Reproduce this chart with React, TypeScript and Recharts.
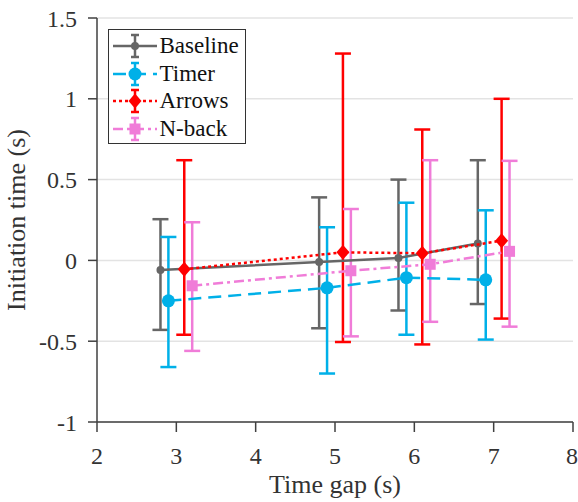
import React from 'react';
import { ComposedChart, Scatter, ErrorBar, XAxis, YAxis, CartesianGrid } from 'recharts';

// time gaps (s) and per-condition horizontal offsets
const timeGaps = [3, 5, 6, 7];
const xTicks = [2, 3, 4, 5, 6, 7, 8];
const yTicks = [-1, -0.5, 0, 0.5, 1, 1.5];

// means and error bar ends (s)
const baselineMean = [-0.06, -0.01, 0.015, 0.105];
const baselineLow = [-0.43, -0.42, -0.31, -0.27];
const baselineHigh = [0.255, 0.39, 0.5, 0.62];

const timerMean = [-0.25, -0.17, -0.107, -0.12];
const timerLow = [-0.66, -0.7, -0.46, -0.49];
const timerHigh = [0.145, 0.205, 0.357, 0.31];

const arrowsMean = [-0.055, 0.05, 0.044, 0.122];
const arrowsLow = [-0.46, -0.505, -0.52, -0.36];
const arrowsHigh = [0.62, 1.28, 0.81, 1.0];

const nbackMean = [-0.157, -0.064, -0.024, 0.056];
const nbackLow = [-0.56, -0.47, -0.38, -0.41];
const nbackHigh = [0.236, 0.318, 0.62, 0.616];

const build = (offset: number, mean: number[], low: number[], high: number[]) =>
  timeGaps.map((g, i) => ({
    x: g + offset,
    y: mean[i],
    err: [mean[i] - low[i], high[i] - mean[i]],
  }));

const FONT = '"Liberation Serif", "Times New Roman", Times, serif';
const AXIS = '#404040';
const TEXT = '#333333';

type MarkerKind = 'dot' | 'circle' | 'diamond' | 'square';

const series = [
  { name: 'Baseline', color: '#666666', dash: undefined, marker: 'dot' as MarkerKind, data: build(-0.2, baselineMean, baselineLow, baselineHigh) },
  { name: 'Timer', color: '#00b0e8', dash: '13 7', marker: 'circle' as MarkerKind, data: build(-0.1, timerMean, timerLow, timerHigh) },
  { name: 'Arrows', color: '#ff0000', dash: '3 3', marker: 'diamond' as MarkerKind, data: build(0.1, arrowsMean, arrowsLow, arrowsHigh) },
  { name: 'N-back', color: '#f07cd8', dash: '10 4 3 4', marker: 'square' as MarkerKind, data: build(0.2, nbackMean, nbackLow, nbackHigh) },
];

function Marker({ kind, cx, cy, color }: { kind: MarkerKind; cx: number; cy: number; color: string }) {
  if (kind === 'dot') return <circle cx={cx} cy={cy} r={4} fill={color} />;
  if (kind === 'circle') return <circle cx={cx} cy={cy} r={6.5} fill={color} />;
  if (kind === 'diamond')
    return <polygon points={`${cx},${cy - 7.5} ${cx + 6.5},${cy} ${cx},${cy + 7.5} ${cx - 6.5},${cy}`} fill={color} />;
  return <rect x={cx - 5.5} y={cy - 5.5} width={11} height={11} fill={color} />;
}

function LegendBox() {
  return (
    <div
      style={{
        position: 'absolute',
        left: 108,
        top: 29,
        width: 138,
        height: 115,
        boxSizing: 'border-box',
        border: '1.5px solid #333',
        background: '#fff',
        padding: '2px 0 0 1.5px',
        fontFamily: FONT,
        fontSize: 23,
        color: '#111',
      }}
    >
      {series.map((s) => (
        <div key={s.name} style={{ display: 'flex', alignItems: 'center', height: 27.7 }}>
          <svg width={48} height={26} style={{ marginRight: 1, flex: 'none' }}>
            <line x1={2} y1={13} x2={46} y2={13} stroke={s.color} strokeWidth={2.5} strokeDasharray={s.dash} />
            <line x1={24} y1={2} x2={24} y2={24} stroke={s.color} strokeWidth={2.5} />
            <line x1={20} y1={2} x2={28} y2={2} stroke={s.color} strokeWidth={2.5} />
            <line x1={20} y1={24} x2={28} y2={24} stroke={s.color} strokeWidth={2.5} />
            <Marker kind={s.marker} cx={24} cy={13} color={s.color} />
          </svg>
          <span style={{ lineHeight: '26px' }}>{s.name}</span>
        </div>
      ))}
    </div>
  );
}

export default function App() {
  return (
    <div style={{ position: 'absolute', left: 0, top: 0, width: 578, height: 502, background: '#fff', fontFamily: FONT }}>
      <ComposedChart width={578} height={502} margin={{ top: 18, right: 5, bottom: 0, left: 0 }} style={{ fontFamily: FONT }}>
        <CartesianGrid vertical={false} stroke="#e3e3e3" strokeWidth={1.5} />
        <XAxis
          dataKey="x"
          type="number"
          domain={[2, 8]}
          ticks={xTicks}
          allowDataOverflow
          height={80}
          stroke={AXIS}
          strokeWidth={1.5}
          tickSize={10}
          tickMargin={15}
          tick={{ fontFamily: FONT, fontSize: 24, fill: TEXT }}
          label={{ value: 'Time gap (s)', position: 'insideBottom', offset: 9, style: { fontFamily: FONT, fontSize: 26, fill: TEXT } }}
        />
        <YAxis
          type="number"
          domain={[-1, 1.5]}
          ticks={yTicks}
          allowDataOverflow
          width={97}
          stroke={AXIS}
          strokeWidth={1.5}
          tickSize={9}
          tickMargin={11}
          tick={{ fontFamily: FONT, fontSize: 24, fill: TEXT }}
          label={{ value: 'Initiation time (s)', angle: -90, position: 'insideLeft', offset: 16, style: { fontFamily: FONT, fontSize: 26, fill: TEXT, textAnchor: 'middle' } }}
        />
        {series.map((s) => (
          <Scatter
            key={s.name}
            name={s.name}
            data={s.data}
            dataKey="y"
            fill={s.color}
            isAnimationActive={false}
            line={{ stroke: s.color, strokeWidth: 2.5, strokeDasharray: s.dash }}
            shape={(p: any) => <Marker kind={s.marker} cx={p.cx} cy={p.cy} color={s.color} />}
          >
            <ErrorBar dataKey="err" direction="y" width={8} stroke={s.color} strokeWidth={2.5} isAnimationActive={false} />
          </Scatter>
        ))}
      </ComposedChart>
      <LegendBox />
    </div>
  );
}
